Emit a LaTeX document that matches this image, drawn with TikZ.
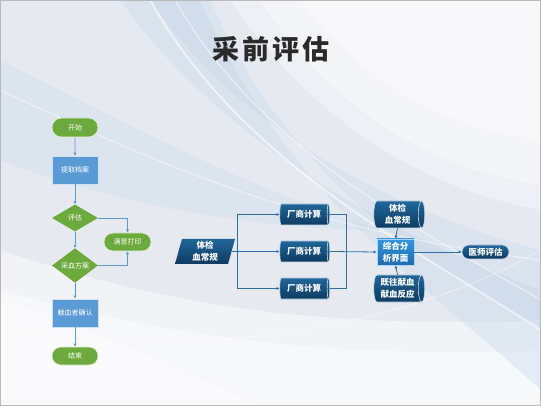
\documentclass[tikz,border=0pt]{standalone}
\usepackage{fontspec}
\newfontfamily\cjk{Noto Sans CJK SC}
\usetikzlibrary{shapes.geometric,shapes.misc,arrows.meta,calc}
\definecolor{gfill}{HTML}{6DAA3D}
\definecolor{rblue}{HTML}{5B9BD5}
\definecolor{lline}{HTML}{5B9BD5}
\definecolor{rline}{HTML}{2F6EA6}
\definecolor{dtop}{HTML}{21669A}
\definecolor{dbot}{HTML}{0E3B60}
\definecolor{ztop}{HTML}{3396DE}
\definecolor{zbot}{HTML}{1E6CB2}
\definecolor{bgA}{HTML}{E6EAF0}
\definecolor{bgB}{HTML}{C2D4EA}
\definecolor{ttl}{HTML}{2A2A2A}
\tikzset{
  base/.style={font=\cjk\fontsize{7}{8}\selectfont, text=white, inner sep=0pt, align=center},
  gpill/.style={base, rounded rectangle, fill=gfill, draw=white!80!gfill, line width=0.6pt, minimum width=46pt, minimum height=19pt},
  brect/.style={base, rectangle, fill=rblue, draw=white!70!rblue, line width=0.6pt, minimum width=46pt, minimum height=28pt},
  gdiam/.style={base, diamond, fill=gfill, minimum width=46pt, minimum height=27pt},
  rbase/.style={font=\cjk\bfseries\fontsize{8.5}{12}\selectfont, text=white, inner sep=0pt, align=center},
  dcyl/.style={rbase, cylinder, shape border rotate=0, aspect=0.32, minimum height=50pt, minimum width=21pt,
     top color=dtop, bottom color=dbot, draw=white!75!dtop, line width=0.6pt},
  dpar/.style={rbase, trapezium, trapezium left angle=71, trapezium right angle=109, trapezium stretches body,
     minimum width=60pt, minimum height=25pt, top color=dtop, bottom color=dbot},
  zrect/.style={rbase, rectangle, minimum width=37pt, minimum height=26pt, top color=ztop, bottom color=zbot,
     draw=white!60!ztop, line width=0.8pt},
  dpill/.style={rbase, rounded rectangle, minimum width=47pt, minimum height=14pt, top color=dtop, bottom color=dbot,
     draw=white!70!dtop, line width=0.6pt},
  lconn/.style={draw=lline, line width=0.9pt, -{Latex[length=3pt,width=3.2pt]}},
  lseg/.style={draw=lline, line width=0.9pt},
  rconn/.style={draw=rline, line width=0.8pt, -{Latex[length=3pt,width=3.2pt]}},
  rseg/.style={draw=rline, line width=0.8pt},
}
\begin{document}
\begin{tikzpicture}[x=1pt,y=-1pt]
% background
\useasboundingbox (0,0) rectangle (541,406);
\fill[bgA] (0,0) rectangle (541,406);
\fill[white, opacity=0.45] (0,250) .. controls (150,300) and (300,330) .. (541,320) -- (541,406) -- (0,406) -- cycle;
\fill[white, opacity=0.45] (0,290) .. controls (150,330) and (300,360) .. (541,350) -- (541,406) -- (0,406) -- cycle;
\fill[white, opacity=0.4] (300,0) .. controls (380,100) and (460,130) .. (541,140) -- (541,0) -- cycle;
\fill[white, opacity=0.35] (260,0) .. controls (340,120) and (440,170) .. (541,185) -- (541,0) -- cycle;
\fill[white, opacity=0.3] (230,0) .. controls (320,130) and (430,190) .. (541,210) -- (541,0) -- cycle;
\fill[bgB, opacity=0.35] (120,0) .. controls (220,140) and (380,230) .. (541,290) -- (541,390) .. controls (420,280) and (290,200) .. (200,0) -- cycle;
\fill[bgB, opacity=0.3] (150,0) .. controls (240,130) and (390,210) .. (541,250) -- (541,330) .. controls (420,260) and (290,180) .. (210,0) -- cycle;
\fill[bgB, opacity=0.25] (0,60) .. controls (120,120) and (250,190) .. (380,230) .. controls (250,230) and (100,200) .. (0,160) -- cycle;
\draw[white, line width=2pt, opacity=0.6] (150,0) .. controls (240,160) and (400,240) .. (541,330);
\draw[white, line width=1.2pt, opacity=0.5] (175,0) .. controls (260,150) and (420,230) .. (541,300);
\draw[white, line width=1pt, opacity=0.5] (0,90) .. controls (150,160) and (300,230) .. (541,260);
\draw[white, line width=1pt, opacity=0.4] (0,330) .. controls (200,360) and (400,330) .. (541,250);
\fill[white, opacity=0.4] (0,300) .. controls (100,330) and (200,380) .. (260,406) -- (0,406) -- cycle;
\draw[gray!55, line width=0.8pt] (0.4,0.4) rectangle (540.6,405.6);
% title
\node[font=\cjk\bfseries\fontsize{27}{30}\selectfont, text=ttl] (title) at (271,49) {采\hspace{3pt}前\hspace{3pt}评\hspace{3pt}估};
% left flowchart
\node[gpill] (start) at (75,127.5) {开始};
\node[brect] (tq) at (75,170) {提取档案};
\node[gdiam] (pg) at (75,218) {评估};
\node[gpill, minimum width=47pt, minimum height=18pt] (my) at (127.5,242) {满意打印};
\node[gdiam] (cx) at (75,265.5) {采血方案};
\node[brect] (qr) at (75,313) {献血者确认};
\node[gpill, minimum height=18pt] (end) at (75,356) {结束};
\draw[lconn] (start) -- (tq);
\draw[lconn] (tq) -- (pg);
\draw[lconn] (pg) -- (cx);
\draw[lconn] (cx) -- (qr);
\draw[lconn] (qr) -- (end);
\draw[lconn] (pg.east) -| (my.north);
\draw[lconn] (cx.east) -| (my.south);
% right chart
\node[dpar] (par) at (205,251.5) {体检\\血常规};
\node[dcyl] (c1) at (304,214.5) {厂商计算};
\node[dcyl] (c2) at (304,251.5) {厂商计算};
\node[dcyl] (c3) at (304,288.5) {厂商计算};
\node[dcyl, minimum height=51pt, minimum width=27pt] (tj) at (397.5,214.5) {体检\\血常规};
\node[zrect] (zh) at (395.5,252) {综合分\\析界面};
\node[dcyl, minimum height=51pt, minimum width=27pt] (jw) at (397.5,288.5) {既往献血\\献血反应};
\node[dpill] (ys) at (485.5,252) {医师评估};
\coordinate (br) at (237,251.5);
\coordinate (bus) at (346,251.5);
\draw[rconn] (par.east) -- (c2.west);
\draw[rconn] (br) |- (c1.west);
\draw[rconn] (br) |- (c3.west);
\draw[rseg] (c1.east) -| (bus);
\draw[rseg] (c3.east) -| (bus);
\draw[rconn] (c2.east) -- (zh.west);
\draw[rconn] (tj.south) -- (zh.north);
\draw[rconn] (jw.north) -- (zh.south);
\draw[rconn] (zh.east) -- (ys.west);
\end{tikzpicture}
\end{document}
